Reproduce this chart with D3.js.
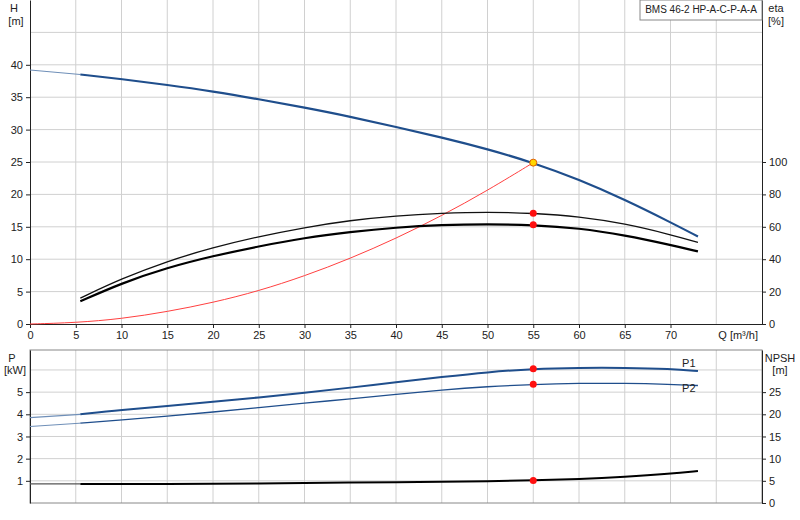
<!DOCTYPE html>
<html><head><meta charset="utf-8">
<script src="https://cdn.jsdelivr.net/npm/d3@7"></script>
<style>body{margin:0;background:#fff}text{font-family:"Liberation Sans",Arial,sans-serif;font-size:11px;fill:#222}</style>
</head><body><svg id="c" width="800" height="520"></svg>
<script>
var q = [0,5.5,10,15,20,25,30,35,40,45,50,55,60,65,70,73];
var head = [39.2,38.5,37.8,36.9,35.9,34.7,33.4,32,30.4,28.8,27,24.9,22.3,19.2,15.7,13.5];
var etaThick = [null,14,25.2,34.8,42,48,53.2,56.8,59.6,61.2,61.6,61.2,59.2,54.8,48.8,44.8];
var etaThin = [null,16,28,38.8,47.2,54,59.6,64,66.8,68.4,69.2,68.4,66.4,62,55.2,50.4];
var sysQ = [0,5,10,15,20,25,30,35,40,45,50,55];
var sysH = [0,0.2,0.8,1.9,3.3,5.1,7.4,10.1,13.2,16.7,20.6,24.9];
var p1 = [3.85,4.0,4.2,4.37,4.56,4.76,4.97,5.2,5.45,5.68,5.9,6.05,6.1,6.1,6.05,5.95];
var p2 = [3.45,3.6,3.75,3.92,4.1,4.3,4.5,4.7,4.9,5.1,5.25,5.35,5.4,5.4,5.35,5.3];
var npsh = [4.3,4.3,4.3,4.3,4.3,4.4,4.5,4.6,4.7,4.8,4.9,5.1,5.4,5.9,6.6,7.2];
var xTicks = [0,5,10,15,20,25,30,35,40,45,50,55,60,65,70];
var hTicks = [0,5,10,15,20,25,30,35,40];
var etaTicks = [0,20,40,60,80,100];
var pTicks = [1,2,3,4,5];
var npshTicks = [0,5,10,15,20,25];
var duty = 55;

var svg = d3.select("#c");
var x = d3.scaleLinear().domain([0,80]).range([30,762]);
var yH = d3.scaleLinear().domain([0,50]).range([324,0]);
var yE = d3.scaleLinear().domain([0,200]).range([324,0]);
var yP = d3.scaleLinear().domain([0,6.9]).range([503,350]);
var yN = d3.scaleLinear().domain([0,34.5]).range([503,350]);
var grid = "#d0d0d0";

function vgrid(y0,y1){
  svg.append("g").selectAll("line").data(d3.range(5,80,5)).enter().append("line")
    .attr("x1",d=>x(d)).attr("x2",d=>x(d)).attr("y1",y0).attr("y2",y1)
    .attr("stroke",grid);
}
vgrid(0,324); vgrid(350,503);
svg.append("g").selectAll("line").data(d3.range(5,50,5)).enter().append("line")
  .attr("x1",30).attr("x2",762).attr("y1",d=>yH(d)).attr("y2",d=>yH(d)).attr("stroke",grid);
svg.append("g").selectAll("line").data(d3.range(1,7)).enter().append("line")
  .attr("x1",30).attr("x2",762).attr("y1",d=>yP(d)).attr("y2",d=>yP(d)).attr("stroke",grid);
svg.append("rect").attr("x",30).attr("y",350).attr("width",732).attr("height",153)
  .attr("fill","none").attr("stroke","#888");

// axes
svg.append("g").attr("transform","translate(30,0)").call(d3.axisLeft(yH).tickValues(hTicks).tickSize(4).tickSizeOuter(0)).call(cl);
svg.append("g").attr("transform","translate(762,0)").call(d3.axisRight(yE).tickValues(etaTicks).tickSize(4).tickSizeOuter(0)).call(cl);
svg.append("g").attr("transform","translate(0,324)").call(d3.axisBottom(x).tickValues(xTicks).tickSize(4).tickSizeOuter(0)).call(cl);
svg.append("g").attr("transform","translate(30,0)").call(d3.axisLeft(yP).tickValues(pTicks).tickFormat(d3.format("d")).tickSize(4).tickSizeOuter(0)).call(cl);
svg.append("g").attr("transform","translate(762,0)").call(d3.axisRight(yN).tickValues(npshTicks).tickSize(4).tickSizeOuter(0)).call(cl);
function cl(g){ g.selectAll("path").attr("stroke","#222"); g.selectAll("line").attr("stroke","#222");
  g.selectAll("text").style("font-family","Liberation Sans, Arial").style("font-size","11px").attr("fill","#222"); }

function lbl(t,xx,yy,a,fs){ svg.append("text").attr("x",xx).attr("y",yy).attr("text-anchor",a||"middle").style("font-size",(fs||11)+"px").text(t); }
lbl("H",14,12); lbl("[m]",16,25);
lbl("eta",776,12); lbl("[%]",776,25);
lbl("Q [m³/h]",758,339,"end");
lbl("P",12,362); lbl("[kW]",15,374);
lbl("NPSH",780,362); lbl("[m]",780,374);
svg.append("rect").attr("x",640).attr("y",0).attr("width",122).attr("height",20).attr("fill","#fff").attr("stroke","#888");
lbl("BMS 46-2 HP-A-C-P-A-A",701,13,"middle",10);

function curve(xs,ys,ys2,col,w){
  var pts = xs.map((d,i)=>[d,ys[i]]).filter(p=>p[1]!=null);
  svg.append("path").datum(pts).attr("fill","none").attr("stroke",col).attr("stroke-width",w)
    .attr("d",d3.line().x(p=>x(p[0])).y(p=>ys2(p[1])).curve(d3.curveBasis));
}
var blue = "#1f4e8c";
curve(q.slice(0,2),head.slice(0,2),yH,"#6f8fb8",1.2);
curve(q.slice(1),head.slice(1),yH,blue,2.2);
curve(sysQ,sysH,yH,"#ff4040",1);
curve(q,etaThin,yE,"#111",1.3);
curve(q,etaThick,yE,"#000",2.2);
curve(q.slice(0,2),p1.slice(0,2),yP,"#6f8fb8",1.2);
curve(q.slice(1),p1.slice(1),yP,blue,2);
curve(q.slice(0,2),p2.slice(0,2),yP,"#6f8fb8",1);
curve(q.slice(1),p2.slice(1),yP,blue,1.3);
curve(q.slice(0,2),npsh.slice(0,2),yN,"#555",1.2);
curve(q.slice(1),npsh.slice(1),yN,"#000",2);
svg.append("text").attr("x",x(72)).attr("y",yP(6.15)).attr("text-anchor","middle").attr("fill",blue).text("P1");
svg.append("text").attr("x",x(72)).attr("y",yP(5.0)).attr("text-anchor","middle").attr("fill",blue).text("P2");

function dot(yy,fill){ svg.append("circle").attr("cx",x(duty)).attr("cy",yy).attr("r",3.5).attr("fill",fill).attr("stroke",fill=="#ffd700"?"#e06000":"none"); }
var i = q.indexOf(duty);
dot(yE(etaThin[i]),"#ff1010"); dot(yE(etaThick[i]),"#ff1010");
dot(yP(p1[i]),"#ff1010"); dot(yP(p2[i]),"#ff1010"); dot(yN(npsh[i]),"#ff1010");
dot(yH(head[i]),"#ffd700");
</script></body></html>
